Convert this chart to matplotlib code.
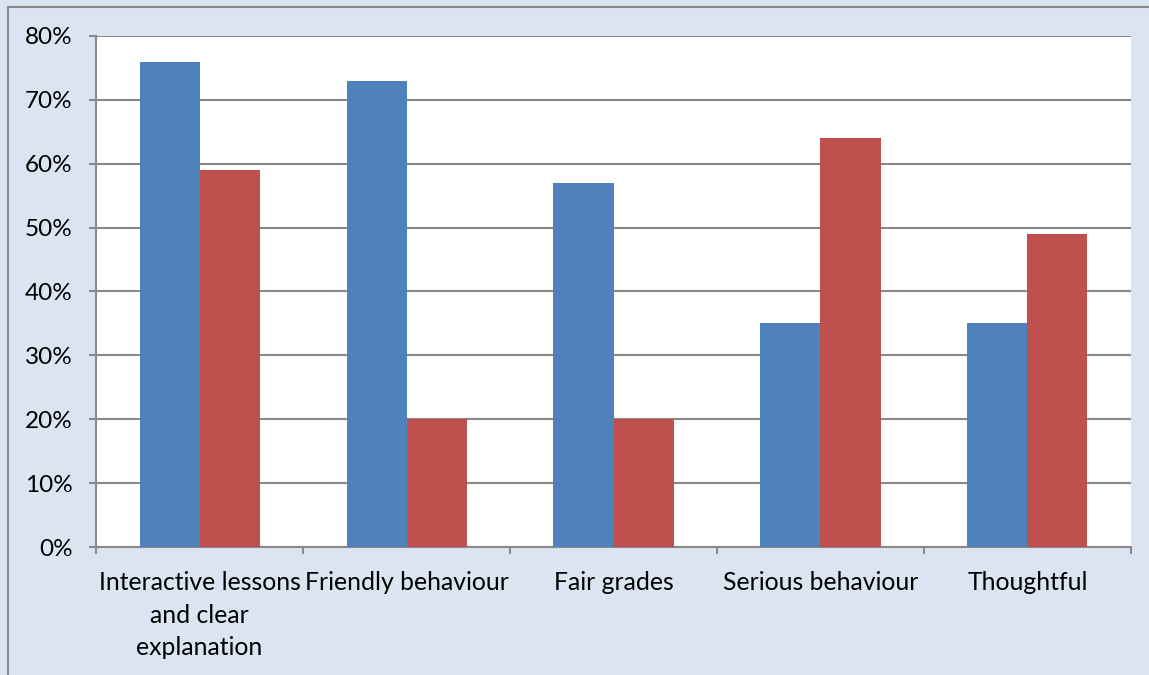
import matplotlib
matplotlib.use("Agg")
import matplotlib.pyplot as plt
import numpy as np
from matplotlib.lines import Line2D
from matplotlib.ticker import FuncFormatter, FixedLocator

plt.rcParams["font.family"] = ["Lato", "DejaVu Sans"]

categories = ["Interactive lessons\nand clear\nexplanation", "Friendly behaviour",
              "Fair grades", "Serious behaviour", "Thoughtful"]
series_a = [76, 73, 57, 35, 35]
series_b = [59, 20, 20, 64, 49]

BLUE = "#4f81bd"
RED = "#c0504d"
GRID = "#898989"
BG = "#dbe5f1"

fig = plt.figure(figsize=(11.49, 6.75), dpi=100, facecolor=BG)
ax = fig.add_axes([0.0836, 0.1896, 0.9007, 0.7571])
ax.set_facecolor("white")

x = np.arange(len(categories))
w = 0.29
ax.bar(x - w / 2, series_a, w, color=BLUE, zorder=3)
ax.bar(x + w / 2, series_b, w, color=RED, zorder=3)

ax.set_xlim(-0.5, len(categories) - 0.5)
ax.set_ylim(0, 80)
ax.yaxis.set_major_locator(FixedLocator(range(0, 81, 10)))
ax.yaxis.set_major_formatter(FuncFormatter(lambda v, _: f"{v:.0f}%"))
ax.grid(axis="y", color=GRID, linewidth=1.5, zorder=0)

for s in ["top", "right"]:
    ax.spines[s].set_visible(False)
for s in ["left", "bottom"]:
    ax.spines[s].set_color(GRID)
    ax.spines[s].set_linewidth(1.5)

# category labels centred under each group, tick marks on the boundaries
ax.set_xticks(np.arange(-0.5, len(categories)))
ax.set_xticklabels([])
ax.set_xticks(x, minor=True)
ax.set_xticklabels(categories, minor=True, fontsize=17.8, linespacing=1.52,
                   va="top")
ax.tick_params(axis="x", which="major", length=5, width=1.5, color=GRID)
ax.tick_params(axis="x", which="minor", length=0, pad=17)
ax.tick_params(axis="y", length=5, width=1.5, color=GRID, labelsize=17.5, pad=12)

# frame around the chart area
fig.add_artist(Line2D([0.007, 0.007], [0.0, 0.99], transform=fig.transFigure,
                      color=GRID, linewidth=1.5))
fig.add_artist(Line2D([0.007, 1.0], [0.99, 0.99], transform=fig.transFigure,
                      color=GRID, linewidth=1.5))

fig.savefig("out.png", dpi=100, facecolor=BG)
